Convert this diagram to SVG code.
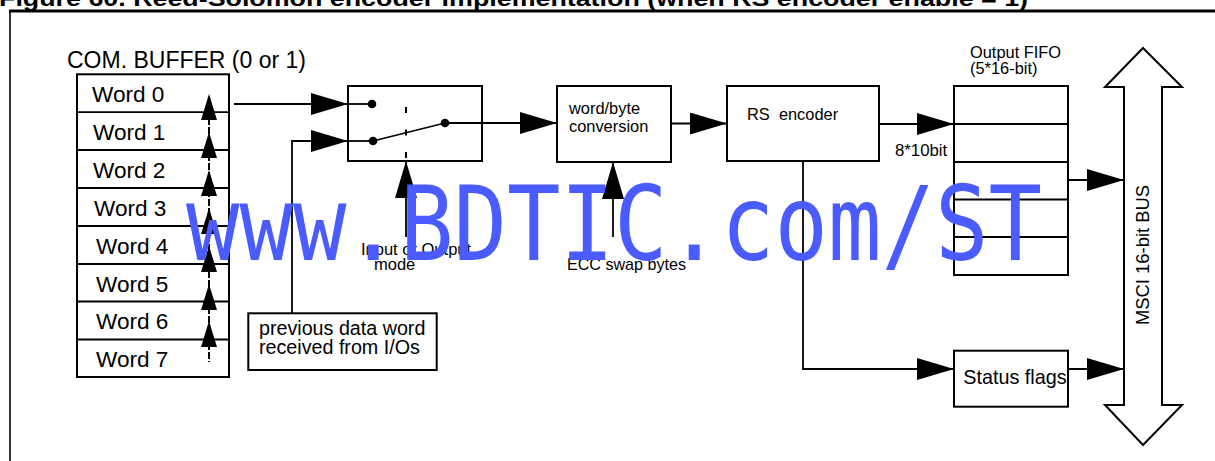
<svg xmlns="http://www.w3.org/2000/svg" width="1215" height="461" viewBox="0 0 1215 461">
<style>
text{font-family:"Liberation Sans",Arial,sans-serif;fill:#000}
text.wm{font-family:"DejaVu Sans Mono",monospace;fill:#4a5bff}
.box{fill:#fff;stroke:#000;stroke-width:2}
.ln{fill:none;stroke:#000;stroke-width:1.8}
.w{font-size:22.6px}
.s16{font-size:16.4px}
</style>
<defs>
<marker id="ah" markerUnits="userSpaceOnUse" markerWidth="38" markerHeight="22" refX="37" refY="11" orient="auto" viewBox="0 0 38 22">
<path d="M0,0 L37,11 L0,22 z" fill="#000"/>
</marker>
</defs>
<rect width="1215" height="461" fill="#fff"/>
<text x="-1" y="6" font-weight="bold" font-size="22" textLength="1029" lengthAdjust="spacingAndGlyphs">Figure 60. Reed-Solomon encoder implementation (when RS encoder enable = 1)</text>
<g id="frame">
<line x1="9" y1="11" x2="1215" y2="11" stroke="#000" stroke-width="3"/>
<line x1="10" y1="11" x2="10" y2="461" stroke="#000" stroke-width="1.6"/>
</g>
<g id="com-buffer">
<text x="67" y="68" font-size="23">COM. BUFFER (0 or 1)</text>
<rect class="box" x="77" y="74.3" width="152" height="302.7"/>
<g class="ln">
<line x1="77" y1="112.1" x2="229" y2="112.1"/>
<line x1="77" y1="150" x2="229" y2="150"/>
<line x1="77" y1="188" x2="229" y2="188"/>
<line x1="77" y1="226" x2="229" y2="226"/>
<line x1="77" y1="264" x2="229" y2="264"/>
<line x1="77" y1="301.5" x2="229" y2="301.5"/>
<line x1="77" y1="339.5" x2="229" y2="339.5"/>
</g>
<text class="w" x="92" y="102.3">Word 0</text>
<text class="w" x="93" y="140.2">Word 1</text>
<text class="w" x="93" y="178">Word 2</text>
<text class="w" x="94" y="215.5">Word 3</text>
<text class="w" x="96" y="254">Word 4</text>
<text class="w" x="96" y="291.8">Word 5</text>
<text class="w" x="96" y="329.4">Word 6</text>
<text class="w" x="96" y="366.8">Word 7</text>
<line x1="209" y1="100" x2="209" y2="362" stroke="#000" stroke-width="2" stroke-dasharray="7 2"/>
<g fill="#000">
<polygon points="209,94 217,120 201,120"/>
<polygon points="209,132 217,158 201,158"/>
<polygon points="209,170 217,196 201,196"/>
<polygon points="209,208 217,234 201,234"/>
<polygon points="209,246 217,272 201,272"/>
<polygon points="209,284 217,310 201,310"/>
<polygon points="209,321 217,347 201,347"/>
</g>
</g>
<g id="switch">
<rect class="box" x="348" y="86" width="134" height="75"/>
<line class="ln" x1="348" y1="104" x2="372" y2="104"/>
<line class="ln" x1="348" y1="141" x2="373" y2="141"/>
<line class="ln" x1="373" y1="141" x2="445" y2="123"/>
<line x1="406" y1="107" x2="406" y2="161" stroke="#000" stroke-width="2" stroke-dasharray="6 16.5"/>
<circle cx="372" cy="104" r="4.3"/>
<circle cx="373" cy="141" r="4.3"/>
<circle cx="445" cy="123" r="4.3"/>
</g>
<g id="prev-word">
<rect class="box" x="248.3" y="313.3" width="188.4" height="56.7"/>
<text x="259" y="335" font-size="19.7">previous data word</text>
<text x="259" y="354.3" font-size="19.7">received from I/Os</text>
</g>
<g id="word-byte">
<rect class="box" x="557" y="86" width="114" height="76"/>
<text class="s16" x="569" y="114">word/byte</text>
<text class="s16" x="569" y="132.3">conversion</text>
</g>
<g id="rs-encoder">
<rect class="box" x="727" y="86" width="152" height="75"/>
<text class="s16" x="747" y="120" style="white-space:pre">RS  encoder</text>
</g>
<g id="output-fifo">
<text x="970" y="58.3" font-size="16.4">Output FIFO</text>
<text x="970" y="73.5" font-size="16.4">(5*16-bit)</text>
<rect class="box" x="954" y="86" width="114" height="189"/>
<g class="ln">
<line x1="954" y1="124" x2="1068" y2="124"/>
<line x1="954" y1="162" x2="1068" y2="162"/>
<line x1="954" y1="199.5" x2="1068" y2="199.5"/>
<line x1="954" y1="237" x2="1068" y2="237"/>
</g>
</g>
<g id="status-flags">
<rect class="box" x="954" y="350.7" width="114" height="56"/>
<text x="963.3" y="384" font-size="19.8">Status flags</text>
</g>
<g id="bus">
<polygon points="1143,48 1182,87 1162,87 1162,405 1182,405 1143,445 1105,405 1124,405 1124,87 1105,87" fill="#fff" stroke="#000" stroke-width="2"/>
<text transform="translate(1148.5,255) rotate(-90)" text-anchor="middle" font-size="18.4">MSCI 16-bit BUS</text>
</g>
<g id="connectors" class="ln">
<line x1="234" y1="104" x2="348" y2="104" marker-end="url(#ah)"/>
<polyline points="292,313 292,141 348,141" marker-end="url(#ah)"/>
<line x1="445" y1="123" x2="557" y2="123" marker-end="url(#ah)"/>
<line x1="671" y1="123.5" x2="727" y2="123.5" marker-end="url(#ah)"/>
<line x1="879" y1="124" x2="954" y2="124" marker-end="url(#ah)"/>
<line x1="1068" y1="180" x2="1124" y2="180" marker-end="url(#ah)"/>
<polyline points="803,161 803,369 954,369" marker-end="url(#ah)"/>
<line x1="1068" y1="369" x2="1124" y2="369" marker-end="url(#ah)"/>
<line x1="406" y1="237" x2="406" y2="161" marker-end="url(#ah)"/>
<line x1="613" y1="237" x2="613" y2="162" marker-end="url(#ah)"/>
</g>
<g id="labels">
<text x="895" y="156" font-size="16.8">8*10bit</text>
<text x="361" y="255" font-size="16.5">Input or Output</text>
<text x="374" y="270" font-size="16.5">mode</text>
<text x="567" y="270" font-size="16.1">ECC swap bytes</text>
</g>
<text class="wm" x="186" y="260" font-size="104" textLength="856" lengthAdjust="spacingAndGlyphs">www.BDTIC.com/ST</text>
</svg>
